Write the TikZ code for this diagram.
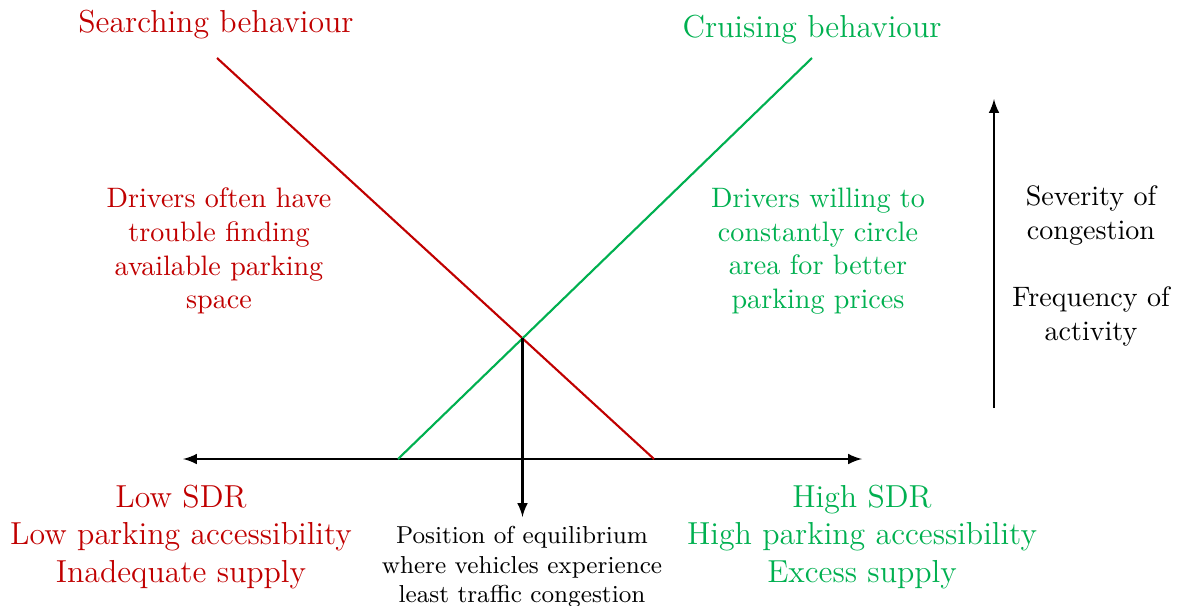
\documentclass[tikz,border=0pt]{standalone}
\usepackage{fontspec}
\usetikzlibrary{arrows}
\definecolor{sdrred}{RGB}{192,0,0}
\definecolor{sdrgreen}{RGB}{0,176,80}
\begin{document}
\begin{tikzpicture}[x=0.01326cm, y=-0.01326cm, >=latex]
\tikzstyle{big}=[align=center, font=\fontsize{12}{14.15}\selectfont]
\tikzstyle{mid}=[align=center, font=\fontsize{10.6}{12.7}\selectfont]
\tikzstyle{sml}=[align=center, font=\fontsize{9.25}{11.1}\selectfont]
\tikzstyle{curve}=[thick]

\useasboundingbox (0, 0) rectangle (1180, 605);

% axis and curves
\coordinate (ax-l) at (183, 459);
\coordinate (ax-r) at (862, 459);
\coordinate (srch-top) at (217, 58);
\coordinate (srch-bot) at (654, 459);
\coordinate (crs-bot) at (398, 459);
\coordinate (crs-top) at (812, 58);
\coordinate (eq) at (522.5, 338.3);
\coordinate (eq-bot) at (522.5, 517);
\coordinate (sev-bot) at (994, 408);
\coordinate (sev-top) at (994, 99);

\draw [<->, thick] (ax-l) to (ax-r);
\draw [curve, sdrred] (srch-top) to (srch-bot);
\draw [curve, sdrgreen] (crs-bot) to (crs-top);
\draw [->, thick] (eq) to (eq-bot);
\draw [->, thick] (sev-bot) to (sev-top);

\node (srch) at (216, 25) [big, sdrred] {Searching behaviour};
\node (crs) at (812, 30) [big, sdrgreen] {Cruising behaviour};

\node (srch-txt) at (219, 251) [mid, sdrred]
    {Drivers often have\\trouble finding\\available parking\\space};
\node (crs-txt) at (818, 251) [mid, sdrgreen]
    {Drivers willing to\\constantly circle\\area for better\\parking prices};

\node (sev) at (1091, 266) [mid]
    {Severity of\\congestion\\[\baselineskip]Frequency of\\activity};

\node (low) at (181, 537) [big, sdrred]
    {Low SDR\\Low parking accessibility\\Inadequate supply};
\node (high) at (862, 537) [big, sdrgreen]
    {High SDR\\High parking accessibility\\Excess supply};

\node (eq-txt) at (522, 567) [sml]
    {Position of equilibrium\\where vehicles experience\\least traffic congestion};

\end{tikzpicture}
\end{document}
